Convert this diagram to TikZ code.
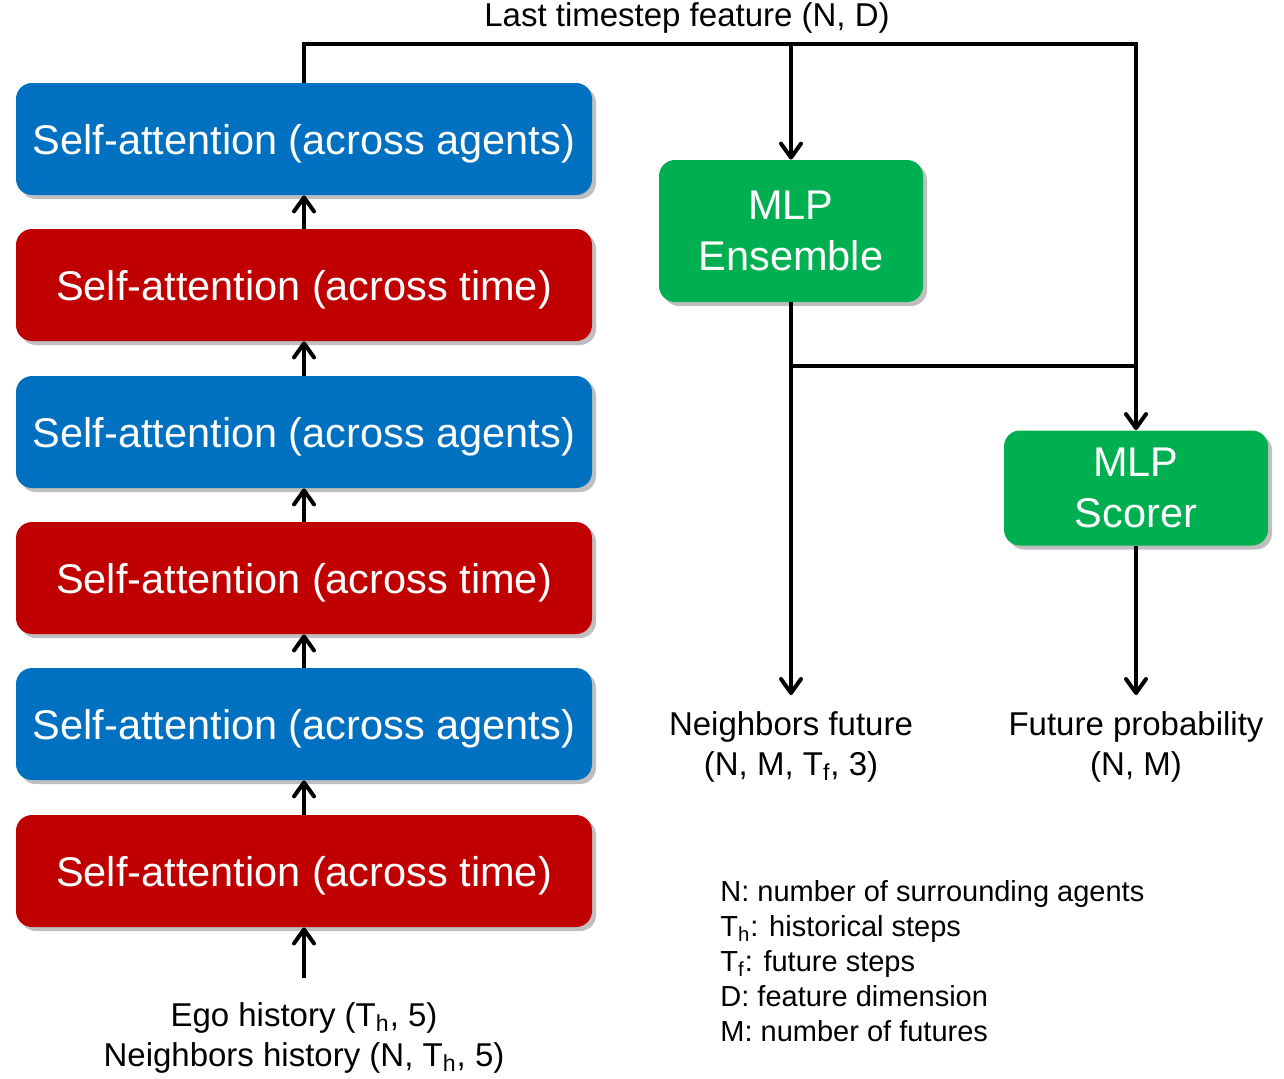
\documentclass[tikz,border=0pt]{standalone}
\usepackage{fontspec}
\setmainfont{Liberation Sans}
\usepackage{tikz}
\usetikzlibrary{positioning, arrows.meta, shadows}

\definecolor{attblue}{HTML}{0070C0}
\definecolor{attred}{HTML}{C00000}
\definecolor{mlpgreen}{HTML}{00B050}

\tikzset{
  block/.style={rounded corners=8pt, text=white, align=center, inner sep=0pt, text depth=0pt,
    font=\fontsize{20.75}{25.5}\selectfont,
    drop shadow={shadow xshift=2pt, shadow yshift=-2pt, opacity=0.25, fill=black}},
  attn/.style={block, minimum width=288pt, minimum height=56pt},
  wire/.style={line width=2pt, line join=miter},
  arr/.style={wire, -{Straight Barb[length=7pt, width=10pt, line cap=round, line join=round]}},
  label/.style={align=center, font=\fontsize{16.5}{20}\selectfont, inner sep=0pt}
}

\begin{document}
\begin{tikzpicture}[x=0.5pt, y=-0.5pt]
    \useasboundingbox (0,0) rectangle (1284,1078);

    % Encoder stack
    \foreach \i/\c/\t/\y in {1/attblue/agents/139, 2/attred/time/285, 3/attblue/agents/432,
                             4/attred/time/578, 5/attblue/agents/724, 6/attred/time/871} {
      \node[attn, fill=\c] (sa\i) at (304,\y) {Self-attention (across \t)};
    }
    \foreach \i/\j in {2/1, 3/2, 4/3, 5/4, 6/5} {
      \draw[arr] (sa\i.north) -- (sa\j.south);
    }

    % Input
    \node[label, anchor=north, inner ysep=12pt] (input) at (304,978)
      {Ego history (T\textsubscript{h}, 5)\\Neighbors history (N, T\textsubscript{h}, 5)};
    \draw[arr] (input.north) -- (sa6.south);

    % Decoders
    \node[block, fill=mlpgreen, minimum width=132pt, minimum height=71pt] (ens) at (791,231) {MLP\\Ensemble};
    \node[block, fill=mlpgreen, minimum width=132pt, minimum height=57.5pt] (scorer) at (1136,488) {MLP\\Scorer};

    % Last timestep feature
    \coordinate (tl) at (304,44);
    \coordinate (tm) at (791,44);
    \coordinate (tr) at (1136,44);
    \coordinate (jn) at (1136,366);
    \node[label, above=5pt of tm, xshift=-52pt] (feat) {Last timestep feature (N, D)};
    \draw[arr] (sa1.north) -- (tl) -- (tr) -- (scorer.north);
    \draw[arr] (tm) -- (ens.north);
    \draw[wire] (ens.south |- jn) -- (jn);

    % Outputs
    \node[label, anchor=north, inner ysep=8pt] (nf) at (791,695) {Neighbors future\\(N, M, T\textsubscript{f}, 3)};
    \node[label, anchor=north, inner ysep=8pt] (fp) at (1136,695) {Future probability\\(N, M)};
    \draw[arr] (ens.south) -- (nf.north);
    \draw[arr] (scorer.south) -- (fp.north);

    % Legend
    \node[anchor=north west, align=left, inner sep=0pt, font=\fontsize{14.5}{17.5}\selectfont] (legend) at (720,880)
      {N: number of surrounding agents\\T\textsubscript{h}: historical steps\\T\textsubscript{f}: future steps\\D: feature dimension\\M: number of futures};

\end{tikzpicture}
\end{document}
